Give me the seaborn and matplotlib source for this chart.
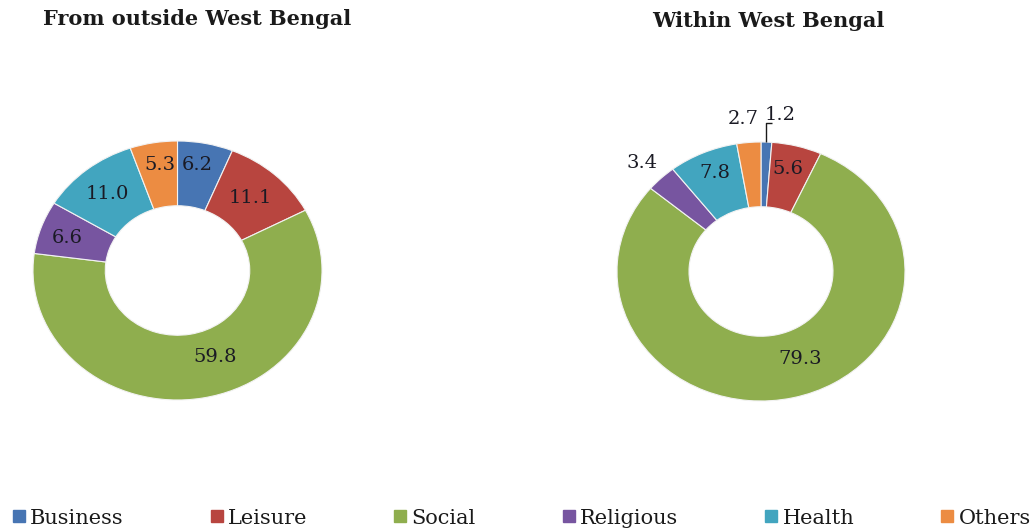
import matplotlib
matplotlib.use("Agg")
import matplotlib.pyplot as plt
import seaborn as sns

# Purpose of visit shares (%)
categories = ["Business", "Leisure", "Social", "Religious", "Health", "Others"]
outside_wb = [6.2, 11.1, 59.8, 6.6, 11.0, 5.3]
within_wb = [1.2, 5.6, 79.3, 3.4, 7.8, 2.7]
titles = ["From outside West Bengal", "Within West Bengal"]

sns.set_theme(style="white")
plt.rcParams["font.family"] = ["DejaVu Serif"]

colors = sns.color_palette(["#4775B3", "#B8453F", "#8FAE4E", "#7755A0", "#42A5BF", "#EC8C42"])

W, H = 1035, 532
fig = plt.figure(figsize=(W / 100, H / 100), dpi=100)
fig.patch.set_facecolor("white")

# axes boxes in pixels: (left, top, width, height)
boxes = [(33, 141, 289, 259), (617, 142, 288, 259)]

# label anchors in axes data units (ring radius = 1)
label_pos = [
    [(0.135, 0.815), (0.502, 0.560), (0.260, -0.668), (-0.765, 0.251), (-0.488, 0.591), (-0.121, 0.815)],
    [(0.132, 1.205), (0.187, 0.795), (0.270, -0.672), (-0.826, 0.834), (-0.319, 0.757), (-0.125, 1.174)],
]

title_pos = [(197, 19), (768, 21)]

for k, values in enumerate([outside_wb, within_wb]):
    l, t, w, h = boxes[k]
    ax = fig.add_axes([l / W, (H - t - h) / H, w / W, h / H])
    wedges, _ = ax.pie(
        values,
        colors=colors,
        startangle=90,
        counterclock=False,
        radius=1.0,
        wedgeprops=dict(width=0.5, edgecolor="#f2f2f2", linewidth=0.8),
    )
    ax.set_aspect("auto")
    ax.set_xlim(-1, 1)
    ax.set_ylim(-1, 1)
    ax.axis("off")
    for v, (x, y) in zip(values, label_pos[k]):
        ax.text(x, y, f"{v:.1f}", ha="center", va="center", fontsize=14,
                color="#1a1a24", clip_on=False)
    tx, ty = title_pos[k]
    fig.text(tx / W, 1 - ty / H, titles[k], ha="center", va="center",
             fontsize=15, fontweight="bold", color="#1a1a1a")

# leader line for the thin Business slice of the second ring
ax.plot([0.033, 0.033, 0.075], [1.0, 1.145, 1.145], color="#1a1a1a",
        linewidth=1.0, clip_on=False, solid_capstyle="butt")

handles = [plt.Line2D([], [], marker="s", linestyle="", markersize=8,
                      markerfacecolor=c, markeredgecolor=c) for c in colors]
fig.legend(handles, categories, loc="center", bbox_to_anchor=(0.504, 1 - 518 / H),
           ncol=6, frameon=False, fontsize=15, handlelength=0.6,
           handletextpad=0.25, columnspacing=4.15, borderpad=0, borderaxespad=0,
           labelcolor="#1a1a1a")

fig.savefig("out.png", dpi=100, facecolor="white")
